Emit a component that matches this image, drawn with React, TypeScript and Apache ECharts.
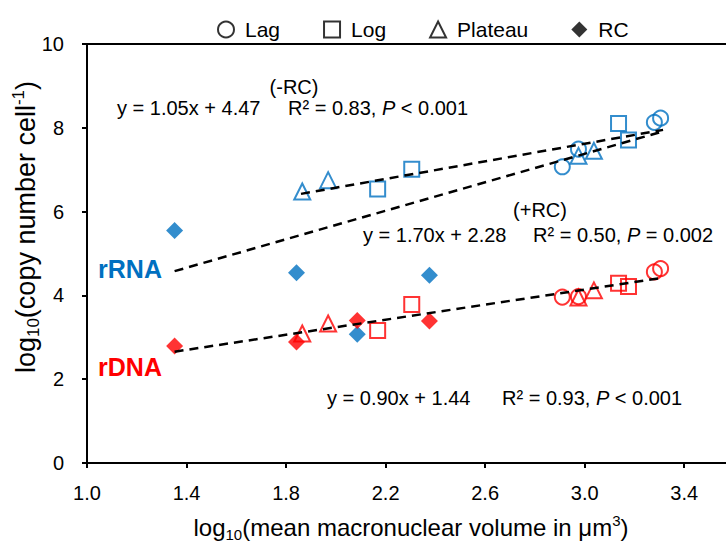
import React, { useEffect, useRef } from "react";
import * as echarts from "echarts";

// ---- data ----
const lagX = [2.91, 2.975, 3.28, 3.305];
const lagRRNA = [7.07, 7.49, 8.13, 8.23];
const lagRDNA = [3.96, 3.97, 4.56, 4.64];

const logX = [2.168, 2.305, 3.136, 3.176];
const logRRNA = [6.54, 7.01, 8.1, 7.71];
const logRDNA = [3.16, 3.78, 4.29, 4.21];

const plateauX = [1.865, 1.969, 2.975, 3.037];
const plateauRRNA = [6.48, 6.75, 7.33, 7.45];
const plateauRDNA = [3.09, 3.33, 3.95, 4.12];

const rcX = [1.352, 1.842, 2.086, 2.376];
const rcRRNA = [5.55, 4.54, 3.07, 4.48];
const rcRDNA = [2.79, 2.89, 3.4, 3.39];

const legendNames = ["Lag", "Log", "Plateau", "RC"];

const fitNames = ["rRNA (-RC)", "rRNA (+RC)", "rDNA"];
const fitSlopes = [1.05, 1.7, 0.9];
const fitIntercepts = [4.47, 2.28, 1.44];
const fitXStart = [1.86, 1.352, 1.352];
const fitXEnd = [3.315, 3.3, 3.31];

const eqTexts = ["y = 1.05x + 4.47", "y = 1.70x + 2.28", "y = 0.90x + 1.44"];
const r2Texts = ["R\u00B2 = 0.83, ", "R\u00B2 = 0.50, ", "R\u00B2 = 0.93, "];
const pTexts = [" < 0.001", " = 0.002", " < 0.001"];

const BLUE = "#0070C0";
const RED = "#FF0000";
const FONT = "'Liberation Sans', Arial, Helvetica, sans-serif";

const zip = (xs: number[], ys: number[]) => xs.map((x, i) => [x, ys[i]]);

export default function App() {
  const ref = useRef<HTMLDivElement>(null);

  useEffect(() => {
    document.body.style.margin = "0";
    if (!ref.current) return;
    const chart = echarts.init(ref.current, null, { renderer: "svg" });

    const hollow = (color: string) => ({
      color: "rgba(0,0,0,0)",
      borderColor: color,
      borderWidth: 2,
    });

    const markerDefs = [
      { name: "Lag", symbol: "circle", size: 15, xs: lagX, r: lagRRNA, d: lagRDNA, filled: false },
      { name: "Log", symbol: "rect", size: 15, xs: logX, r: logRRNA, d: logRDNA, filled: false },
      { name: "Plateau", symbol: "triangle", size: 16, xs: plateauX, r: plateauRRNA, d: plateauRDNA, filled: false },
      { name: "RC", symbol: "diamond", size: 17, xs: rcX, r: rcRRNA, d: rcRDNA, filled: true },
    ];

    const series: any[] = [];
    // legend-only (black) series
    markerDefs.forEach((m) => {
      series.push({
        name: m.name,
        type: "scatter",
        data: [],
        symbol: m.symbol,
        symbolSize: m.size,
        itemStyle: m.filled ? { color: "#000" } : hollow("#000"),
      });
    });
    // data series
    markerDefs.forEach((m) => {
      [
        { mol: "rRNA", ys: m.r, color: BLUE },
        { mol: "rDNA", ys: m.d, color: RED },
      ].forEach((s) => {
        series.push({
          name: s.mol + " " + m.name,
          type: "scatter",
          data: zip(m.xs, s.ys),
          symbol: m.symbol,
          symbolSize: m.size,
          itemStyle: m.filled ? { color: s.color } : hollow(s.color),
          z: 3,
        });
      });
    });
    // regression lines
    fitNames.forEach((n, i) => {
      const f = (x: number) => fitSlopes[i] * x + fitIntercepts[i];
      series.push({
        name: n,
        type: "line",
        data: [
          [fitXStart[i], f(fitXStart[i])],
          [fitXEnd[i], f(fitXEnd[i])],
        ],
        showSymbol: false,
        symbol: "none",
        lineStyle: { color: "#000", width: 2.5, type: [9, 6] },
        z: 4,
        silent: true,
      });
    });

    const base = { fontFamily: FONT, fontSize: 20, fill: "#000" };
    const eqRich = {
      a: { fontFamily: FONT, fontSize: 20, fill: "#000" },
      i: { fontFamily: FONT, fontSize: 20, fill: "#000", fontStyle: "italic" },
    };
    const eqPos = [
      { ex: 117, rx: 288, y: 108 },
      { ex: 363, rx: 533, y: 235 },
      { ex: 327, rx: 502, y: 398 },
    ];
    const graphics: any[] = [];
    eqPos.forEach((p, i) => {
      graphics.push({
        type: "text",
        x: p.ex,
        y: p.y,
        style: { ...base, text: eqTexts[i], align: "left", verticalAlign: "middle" },
      });
      graphics.push({
        type: "text",
        x: p.rx,
        y: p.y,
        style: {
          ...base,
          text: "{a|" + r2Texts[i] + "}{i|P}{a|" + pTexts[i] + "}",
          rich: eqRich,
          align: "left",
          verticalAlign: "middle",
        },
      });
    });
    graphics.push({
      type: "text", x: 294, y: 87,
      style: { ...base, text: "(-RC)", align: "center", verticalAlign: "middle" },
    });
    graphics.push({
      type: "text", x: 540, y: 210,
      style: { ...base, text: "(+RC)", align: "center", verticalAlign: "middle" },
    });
    graphics.push({
      type: "text", x: 130, y: 269,
      style: { fontFamily: FONT, fontSize: 25, fontWeight: "bold", fill: BLUE, text: "rRNA", align: "center", verticalAlign: "middle" },
    });
    graphics.push({
      type: "text", x: 130, y: 367,
      style: { fontFamily: FONT, fontSize: 25, fontWeight: "bold", fill: RED, text: "rDNA", align: "center", verticalAlign: "middle" },
    });
    const mkRich = (big: number, small: number) => ({
      n: { fontFamily: FONT, fontSize: big, fill: "#000", lineHeight: big + 5 },
      s: { fontFamily: FONT, fontSize: small, fill: "#000", lineHeight: small, verticalAlign: "bottom" },
      p: { fontFamily: FONT, fontSize: small, fill: "#000", lineHeight: small, verticalAlign: "top" },
    });
    graphics.push({
      type: "text", x: 26, y: 227, rotation: Math.PI / 2,
      style: {
        text: "{n|log}{s|10}{n|(copy number cell}{p|-1}{n|)}",
        rich: mkRich(27, 17), align: "center", verticalAlign: "middle",
      },
    });
    graphics.push({
      type: "text", x: 411, y: 527,
      style: {
        text: "{n|log}{s|10}{n|(mean macronuclear volume in \u03BCm}{p|3}{n|)}",
        rich: mkRich(24, 15), align: "center", verticalAlign: "middle",
      },
    });

    const axisCommon = {
      axisLine: { show: true, lineStyle: { color: "#000", width: 2 } },
      axisTick: { show: true, inside: false, length: 5, lineStyle: { color: "#000", width: 2 } },
      splitLine: { show: false },
    };

    chart.setOption({
      animation: false,
      backgroundColor: "#fff",
      textStyle: { fontFamily: FONT },
      grid: {
        left: 87,
        top: 44,
        width: 647,
        height: 419,
        show: true,
        borderColor: "#000",
        borderWidth: 2,
        outerBoundsMode: "none",
      },
      legend: {
        data: legendNames,
        left: 212,
        top: 14,
        itemWidth: 16,
        itemHeight: 16,
        itemGap: 43,
        selectedMode: false,
        textStyle: { fontFamily: FONT, fontSize: 21, color: "#000", padding: [0, 0, 0, 6] },
      },
      xAxis: {
        type: "value",
        min: 1.0,
        max: 3.6,
        interval: 0.4,
        ...axisCommon,
        axisLabel: {
          fontFamily: FONT,
          fontSize: 20,
          color: "#000",
          margin: 20,
          formatter: (v: number) => (v > 3.5 ? "" : v.toFixed(1)),
        },
      },
      yAxis: {
        type: "value",
        min: 0,
        max: 10,
        interval: 2,
        ...axisCommon,
        axisLabel: { fontFamily: FONT, fontSize: 20, color: "#000", margin: 23 },
      },
      graphic: graphics,
      series,
    });

    return () => chart.dispose();
  }, []);

  return <div ref={ref} style={{ width: 726, height: 549 }} />;
}
